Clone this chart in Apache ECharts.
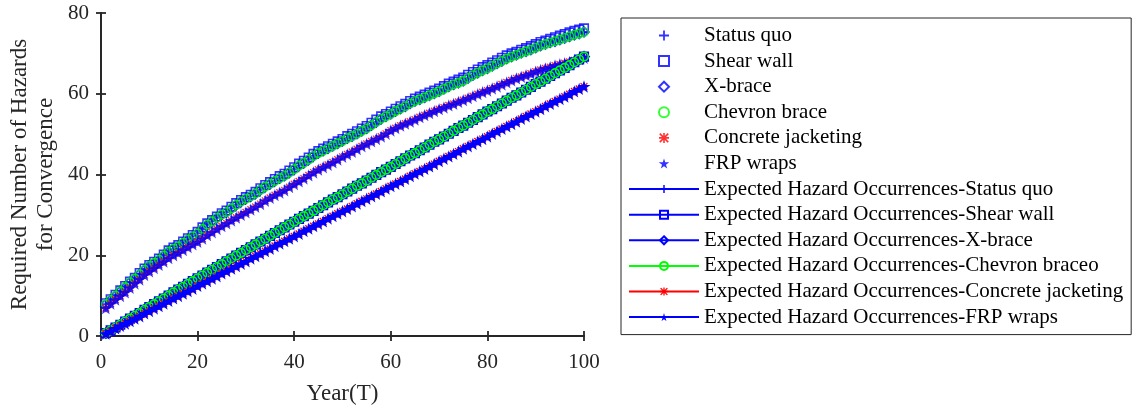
<!DOCTYPE html>
<html>
<head>
<meta charset="utf-8">
<script src="https://cdn.jsdelivr.net/npm/echarts@6/dist/echarts.min.js"></script>
<style>
html,body{margin:0;padding:0;background:#fff;}
#chart{width:1144px;height:410px;}
</style>
</head>
<body>
<div id="chart"></div>
<script>
// Years T = 1..100
const years = Array.from({length: 100}, (_, i) => i + 1);

// Observed required number of hazards (upper band: Status quo / X-brace / Chevron brace)
const obsUpper = [
 7.9, 8.9,10.0,11.1,12.1,13.3,14.2,15.3,16.4,17.4,
18.1,18.9,19.9,20.9,21.6,22.2,23.1,23.9,24.7,25.4,
26.5,27.6,28.4,29.3,30.1,30.7,31.6,32.5,33.3,34.0,
34.6,35.3,36.2,37.0,37.7,38.4,39.1,39.7,40.5,41.3,
42.2,42.9,43.7,44.6,45.3,45.9,46.5,47.1,47.7,48.3,
49.0,49.5,50.1,50.8,51.4,52.2,53.0,53.8,54.4,55.0,
55.7,56.3,56.9,57.6,58.2,58.6,59.1,59.6,60.1,60.6,
61.2,61.8,62.3,62.7,63.2,63.9,64.6,65.2,65.8,66.3,
66.9,67.5,68.1,68.7,69.2,69.6,70.1,70.5,70.9,71.4,
71.9,72.3,72.7,73.0,73.4,73.8,74.2,74.6,74.9,75.3];

// Shear wall sits marginally above the other upper-band series
const obsShearWall = [
 8.1, 9.1,10.2,11.3,12.4,13.5,14.4,15.6,16.7,17.6,
18.4,19.2,20.2,21.2,21.9,22.5,23.4,24.2,25.0,25.8,
26.9,27.9,28.7,29.6,30.4,31.1,32.0,32.9,33.7,34.4,
35.0,35.7,36.6,37.4,38.1,38.9,39.6,40.2,41.0,41.8,
42.7,43.4,44.2,45.1,45.8,46.4,47.0,47.6,48.2,48.8,
49.5,50.1,50.7,51.4,52.0,52.8,53.6,54.4,55.0,55.6,
56.3,56.9,57.5,58.2,58.8,59.3,59.8,60.3,60.8,61.3,
61.9,62.5,63.0,63.5,64.0,64.7,65.4,66.0,66.6,67.1,
67.7,68.3,68.9,69.5,70.0,70.4,70.9,71.3,71.8,72.3,
72.8,73.2,73.6,74.0,74.4,74.8,75.2,75.6,75.9,76.2];

// Observed (lower band: Concrete jacketing / FRP wraps)
const obsLower = [
 6.9, 8.0, 9.0, 9.9,10.8,11.9,13.0,14.0,15.1,16.0,
16.8,17.6,18.4,19.3,20.0,20.6,21.3,22.0,22.7,23.3,
24.1,25.0,25.7,26.5,27.2,27.9,28.6,29.3,30.0,30.6,
31.3,32.0,32.7,33.5,34.2,34.9,35.5,36.1,36.9,37.6,
38.3,39.0,39.8,40.5,41.2,41.8,42.4,43.0,43.7,44.4,
45.0,45.6,46.3,47.0,47.6,48.2,48.8,49.4,50.1,50.9,
51.5,52.1,52.6,53.1,53.6,54.2,54.7,55.2,55.7,56.2,
56.6,57.1,57.5,58.0,58.4,58.9,59.4,59.9,60.4,60.8,
61.3,61.8,62.3,62.8,63.3,63.8,64.2,64.6,65.0,65.5,
65.9,66.3,66.6,67.0,67.3,67.6,67.9,68.3,68.6,68.9];

// Expected hazard occurrences (upper: Status quo / Shear wall / X-brace / Chevron brace)
const expUpper = [
 0.7, 1.4, 2.1, 2.8, 3.6, 4.3, 5.0, 5.7, 6.5, 7.2,
 7.9, 8.6, 9.3,10.0,10.8,11.5,12.2,12.9,13.6,14.3,
15.0,15.7,16.4,17.1,17.8,18.5,19.2,19.9,20.6,21.3,
22.0,22.7,23.4,24.1,24.8,25.5,26.2,26.9,27.6,28.3,
29.0,29.7,30.3,31.0,31.7,32.4,33.1,33.8,34.4,35.1,
35.8,36.5,37.2,37.8,38.5,39.2,39.9,40.6,41.2,41.9,
42.6,43.3,44.0,44.7,45.3,46.0,46.7,47.4,48.1,48.7,
49.4,50.1,50.8,51.5,52.1,52.8,53.5,54.2,54.9,55.6,
56.2,56.9,57.6,58.3,59.0,59.6,60.3,61.0,61.7,62.4,
63.0,63.7,64.4,65.1,65.8,66.4,67.1,67.8,68.5,69.2];

// Expected hazard occurrences (lower: Concrete jacketing / FRP wraps)
const expLower = [
 0.6, 1.2, 1.9, 2.5, 3.1, 3.7, 4.3, 4.9, 5.6, 6.2,
 6.8, 7.4, 8.0, 8.7, 9.3, 9.9,10.5,11.1,11.7,12.4,
13.0,13.6,14.2,14.8,15.5,16.1,16.7,17.3,17.9,18.5,
19.2,19.8,20.4,21.0,21.6,22.3,22.9,23.5,24.1,24.7,
25.3,26.0,26.6,27.2,27.8,28.4,29.1,29.7,30.3,30.9,
31.5,32.1,32.8,33.4,34.0,34.6,35.2,35.8,36.5,37.1,
37.7,38.3,38.9,39.6,40.2,40.8,41.4,42.0,42.6,43.3,
43.9,44.5,45.1,45.7,46.4,47.0,47.6,48.2,48.8,49.4,
50.1,50.7,51.3,51.9,52.5,53.1,53.8,54.4,55.0,55.6,
56.2,56.9,57.5,58.1,58.7,59.3,59.9,60.6,61.2,61.8];

const xTicks = [0, 20, 40, 60, 80, 100];
const yTicks = [0, 20, 40, 60, 80];

const names = ['Status quo','Shear wall','X-brace','Chevron brace','Concrete jacketing','FRP wraps',
 'Expected Hazard Occurrences-Status quo','Expected Hazard Occurrences-Shear wall',
 'Expected Hazard Occurrences-X-brace','Expected Hazard Occurrences-Chevron braceo',
 'Expected Hazard Occurrences-Concrete jacketing','Expected Hazard Occurrences-FRP wraps'];

const FONT = '"Liberation Serif","Times New Roman",serif';
const AX = '#262626';
const BLUE = '#0000ff', GREEN = '#00ff00', RED = '#ff0000';

const PLUS = 'path://M4.1,0H5.9V4.1H10V5.9H5.9V10H4.1V5.9H0V4.1H4.1Z';
const ASTER = 'path://M4.2,0H5.8V10H4.2Z M0,4.2H10V5.8H0Z M1.4,0.2L9.8,8.6L8.6,9.8L0.2,1.4Z M8.6,0.2L9.8,1.4L1.4,9.8L0.2,8.6Z';
const STAR = 'path://M50,0L61,35H98L68,57L79,91L50,70L21,91L32,57L2,35H39Z';
const SQUARE = 'path://M0,0H10V10H0Z';
const DIAMOND = 'path://M5,0L10,5L5,10L0,5Z';

function pairs(arr){ return years.map((t,i)=>[t, arr[i]]); }

const markerDefs = [
  {sym: PLUS,    size: 10, color: BLUE,  filled: true},
  {sym: SQUARE,  size: 8.5,color: BLUE,  filled: false},
  {sym: DIAMOND, size: 10, color: BLUE,  filled: false},
  {sym: 'circle',size: 8.5,color: GREEN, filled: false},
  {sym: ASTER,   size: 8,  color: RED,   filled: true},
  {sym: STAR,    size: 13, color: BLUE,  filled: true}
];

const obsData = [obsUpper, obsShearWall, obsUpper, obsUpper, obsLower, obsLower];
const expData = [expUpper, expUpper, expUpper, expUpper, expLower, expLower];

function itemStyleFor(m){
  return m.filled ? {color: m.color, borderWidth: 0}
                  : {color: 'rgba(255,255,255,0)', borderColor: m.color, borderWidth: 1.6};
}

const series = [];
markerDefs.forEach((m, i) => {
  series.push({
    name: names[i], type: 'scatter', data: pairs(obsData[i]),
    symbol: m.sym, symbolSize: m.size, symbolKeepAspect: true, itemStyle: itemStyleFor(m),
    animation: false, emphasis: {disabled: true}
  });
});
markerDefs.forEach((m, i) => {
  series.push({
    name: names[i + 6], type: 'line', data: pairs(expData[i]),
    symbol: m.sym, symbolSize: m.size, symbolKeepAspect: true, showSymbol: true, showAllSymbol: true,
    itemStyle: itemStyleFor(m), lineStyle: {color: m.color, width: 1.2},
    animation: false, emphasis: {disabled: true}
  });
});

const axisLine = {show: true, lineStyle: {color: AX, width: 1.8}};
const axisTick = {show: true, inside: true, length: 5, lineStyle: {color: AX, width: 1.8}};

const option = {
  backgroundColor: '#fff',
  animation: false,
  grid: {left: 101, top: 13, width: 483, height: 325, containLabel: false},
  legend: {
    orient: 'vertical', left: 621, top: 18,
    padding: [7, 8, 7, 7],
    backgroundColor: '#fff',
    borderColor: AX, borderWidth: 1,
    itemWidth: 70, itemHeight: 10, itemGap: 4.6,
    symbolKeepAspect: true,
    textStyle: {fontFamily: FONT, fontSize: 21, color: '#000', lineHeight: 20},
    data: names
  },
  xAxis: [
    {type: 'value', min: 0, max: 100, interval: 20, position: 'bottom',
     axisLine, axisTick, splitLine: {show: false},
     axisLabel: {fontFamily: FONT, fontSize: 21, color: AX, margin: 16},
     name: 'Year(T)', nameLocation: 'middle', nameGap: 46,
     nameTextStyle: {fontFamily: FONT, fontSize: 23, color: AX}},
    {type: 'value', min: 0, max: 100, interval: 20, position: 'top',
     axisLine, axisTick, splitLine: {show: false}, axisLabel: {show: false}}
  ],
  yAxis: [
    {type: 'value', min: 0, max: 80, interval: 20, position: 'left',
     axisLine, axisTick, splitLine: {show: false},
     axisLabel: {fontFamily: FONT, fontSize: 21, color: AX, margin: 12},
     name: 'Required Number of Hazards\nfor Convergence', nameLocation: 'middle',
     nameRotate: 90, nameGap: 42,
     nameTextStyle: {fontFamily: FONT, fontSize: 23, color: AX, lineHeight: 26}},
    {type: 'value', min: 0, max: 80, interval: 20, position: 'right',
     axisLine, axisTick, splitLine: {show: false}, axisLabel: {show: false}}
  ],
  series
};

const chart = echarts.init(document.getElementById('chart'), null, {renderer: 'canvas'});
chart.setOption(option);
</script>
</body>
</html>
